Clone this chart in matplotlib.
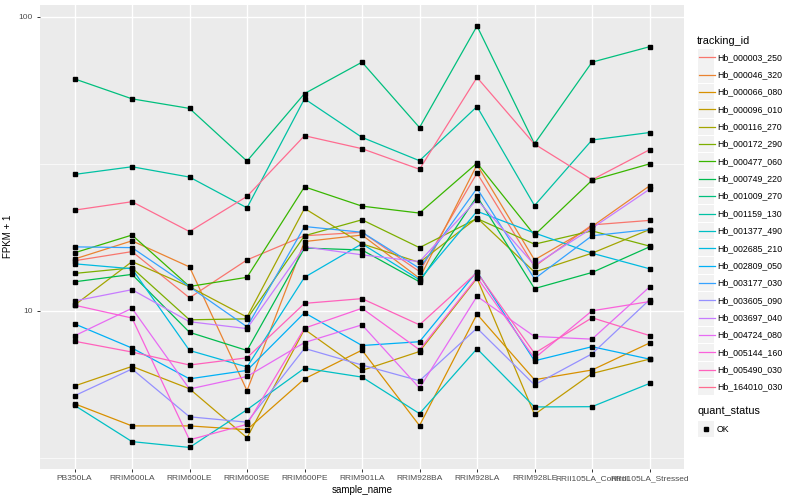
import numpy as np
import matplotlib.pyplot as plt
from matplotlib.patches import Rectangle
from matplotlib.lines import Line2D
from matplotlib.ticker import FixedLocator, NullFormatter

plt.rcParams['font.family'] = ['Liberation Sans', 'DejaVu Sans']

# ── Data (FPKM + 1) ──────────────────────────────────────────────────────────
samples = ["PB350LA", "RRIM600LA", "RRIM600LE", "RRIM600SE", "RRIM600PE",
           "RRIM901LA", "RRIM928BA", "RRIM928LA", "RRIM928LE",
           "RRII105LA_Control", "RRII105LA_Stressed"]

tracking_ids = ["Hb_000003_250", "Hb_000046_320", "Hb_000066_080", "Hb_000096_010",
                "Hb_000116_270", "Hb_000172_290", "Hb_000477_060", "Hb_000749_220",
                "Hb_001009_270", "Hb_001159_130", "Hb_001377_490", "Hb_002685_210",
                "Hb_002809_050", "Hb_003177_030", "Hb_003605_090", "Hb_003697_040",
                "Hb_004724_080", "Hb_005144_160", "Hb_005490_030", "Hb_164010_030"]

hb_000003_250 = [14.8, 15.9, 11.07, 14.9, 18.0, 18.5, 13.6, 29.4, 14.15, 19.6, 20.3]
hb_000046_320 = [15.0, 17.3, 14.1, 5.35, 17.2, 18.1, 12.9, 31.4, 14.9, 19.35, 26.6]
hb_000066_080 = [4.83, 4.06, 4.06, 3.94, 5.87, 7.35, 4.07, 9.74, 5.83, 6.29, 7.77]
hb_000096_010 = [5.55, 6.47, 5.43, 3.70, 8.65, 6.27, 7.27, 12.9, 4.44, 6.12, 6.85]
hb_000116_270 = [10.45, 14.7, 12.07, 9.52, 22.3, 16.9, 14.6, 20.7, 13.55, 15.7, 18.9]
hb_000172_290 = [13.4, 14.0, 9.32, 9.39, 18.0, 20.4, 16.4, 20.6, 16.85, 18.7, 16.6]
hb_000477_060 = [15.75, 18.1, 12.1, 13.0, 26.4, 22.7, 21.5, 31.8, 18.1, 27.8, 31.6]
hb_000749_220 = [12.55, 13.3, 8.45, 7.33, 16.35, 16.1, 12.55, 24.5, 11.9, 13.5, 16.5]
hb_001009_270 = [61.5, 52.6, 48.8, 32.3, 54.8, 70.1, 42.0, 93.0, 37.0, 70.1, 79.1]
hb_001159_130 = [29.1, 30.9, 28.5, 22.4, 52.6, 38.9, 32.4, 49.5, 22.8, 38.1, 40.4]
hb_001377_490 = [4.77, 3.59, 3.43, 4.61, 6.38, 5.95, 4.47, 7.43, 4.71, 4.72, 5.66]
hb_002685_210 = [14.45, 13.9, 7.33, 6.44, 13.0, 16.9, 12.75, 21.8, 18.4, 15.7, 13.9]
hb_002809_050 = [9.03, 7.47, 5.87, 6.27, 9.85, 7.62, 7.85, 13.6, 6.76, 7.55, 6.85]
hb_003177_030 = [16.5, 16.4, 12.07, 8.82, 19.35, 18.5, 13.95, 26.1, 12.85, 18.0, 18.9]
hb_003605_090 = [5.14, 6.34, 4.36, 4.18, 7.45, 6.54, 5.78, 8.73, 5.60, 7.14, 10.9]
hb_003697_040 = [10.8, 11.8, 9.18, 8.70, 16.5, 15.5, 14.7, 23.9, 14.3, 19.1, 25.9]
hb_004724_080 = [8.22, 10.2, 5.42, 5.98, 7.80, 8.96, 5.46, 11.2, 8.18, 8.01, 12.05]
hb_005144_160 = [10.45, 9.45, 3.64, 4.11, 8.73, 10.2, 7.37, 13.0, 6.90, 10.0, 10.75]
hb_005490_030 = [7.88, 7.24, 6.54, 6.92, 10.6, 11.0, 8.96, 13.5, 7.17, 9.47, 8.24]
hb_164010_030 = [22.0, 23.5, 18.6, 24.5, 39.4, 35.6, 30.3, 62.2, 36.9, 27.9, 35.3]

series = [hb_000003_250, hb_000046_320, hb_000066_080, hb_000096_010,
          hb_000116_270, hb_000172_290, hb_000477_060, hb_000749_220,
          hb_001009_270, hb_001159_130, hb_001377_490, hb_002685_210,
          hb_002809_050, hb_003177_030, hb_003605_090, hb_003697_040,
          hb_004724_080, hb_005144_160, hb_005490_030, hb_164010_030]

# ggplot default hue palette for 20 groups
colors = ["#F8766D", "#EA8331", "#D89000", "#C09B00", "#A3A500", "#7CAE00",
          "#39B600", "#00BB4E", "#00BF7D", "#00C1A3", "#00BFC4", "#00BAE0",
          "#00B0F6", "#35A2FF", "#9590FF", "#C77CFF", "#E76BF3", "#FA62DB",
          "#FF62BC", "#FF6C90"]

W, H = 800, 500


def px(x, y):
    """pixel (from top-left) -> figure fraction"""
    return x / W, 1 - y / H


fig = plt.figure(figsize=(8, 5), dpi=100)
fig.patch.set_facecolor('white')
ax = fig.add_axes([40 / W, 1 - 468.5 / H, 644 / W, 463.5 / H])
ax.set_facecolor('#EBEBEB')

x = np.arange(len(samples))
for vals, c in zip(series, colors):
    ax.plot(x, vals, color=c, linewidth=0.9, zorder=2)
for vals in series:
    ax.plot(x, vals, linestyle='none', marker='s', markersize=2.3,
            color='black', zorder=3)

# ── Scales (ggplot-like 5% expansion on log axis, 0.6 on discrete) ───────────
ax.set_yscale('log')
allv = np.concatenate([np.asarray(s) for s in series])
lo, hi = np.log10(allv.min()), np.log10(allv.max())
pad = 0.05 * (hi - lo)
ax.set_ylim(10 ** (lo - pad), 10 ** (hi + pad))
ax.set_xlim(-0.6, len(samples) - 0.4)

ax.yaxis.set_major_locator(FixedLocator([10, 100]))
ax.set_yticklabels(["10", "100"])
ax.yaxis.set_minor_locator(FixedLocator([10 ** 0.5, 10 ** 1.5]))
ax.yaxis.set_minor_formatter(NullFormatter())
ax.set_xticks(x)
ax.set_xticklabels(samples)

ax.grid(True, which='major', color='white', linewidth=1.0)
ax.grid(True, which='minor', axis='y', color='white', linewidth=0.5)
ax.set_axisbelow(True)
for s in ax.spines.values():
    s.set_visible(False)
ax.tick_params(which='major', colors='#333333', length=2.5, width=0.7,
               labelsize=6.0, labelcolor='#4D4D4D', pad=2.5)
ax.tick_params(which='minor', length=0)

ax.set_xlabel('sample_name', fontsize=7.0, labelpad=2)
ax.set_ylabel('FPKM + 1', fontsize=7.0, labelpad=4)

# ── Legends (drawn by hand, ggplot style) ────────────────────────────────────
fig.text(*px(697, 40.5), 'tracking_id', fontsize=7.8, va='center', ha='left')
for i, (tid, c) in enumerate(zip(tracking_ids, colors)):
    yc = 57.3 + 17.36 * i
    x0, y0 = px(697.5, yc + 8.2)
    fig.add_artist(Rectangle((x0, y0), 16.5 / W, 16.4 / H,
                             transform=fig.transFigure,
                             facecolor='#F2F2F2', edgecolor='none'))
    fig.add_artist(Line2D([699 / W, 714.5 / W], [1 - yc / H, 1 - yc / H],
                          transform=fig.transFigure, color=c, linewidth=0.9))
    fig.text(*px(717, yc), tid, fontsize=6.3, va='center', ha='left')

fig.text(*px(697, 411.5), 'quant_status', fontsize=7.8, va='center', ha='left')
x0, y0 = px(697.5, 429 + 8.2)
fig.add_artist(Rectangle((x0, y0), 16.5 / W, 16.4 / H,
                         transform=fig.transFigure,
                         facecolor='#F2F2F2', edgecolor='none'))
fig.add_artist(Line2D([705.7 / W], [1 - 429 / H], transform=fig.transFigure,
                      marker='s', markersize=2.3, color='black', linestyle='none'))
fig.text(*px(717, 429), 'OK', fontsize=6.3, va='center', ha='left')

fig.savefig('out.png', dpi=100, facecolor='white')
